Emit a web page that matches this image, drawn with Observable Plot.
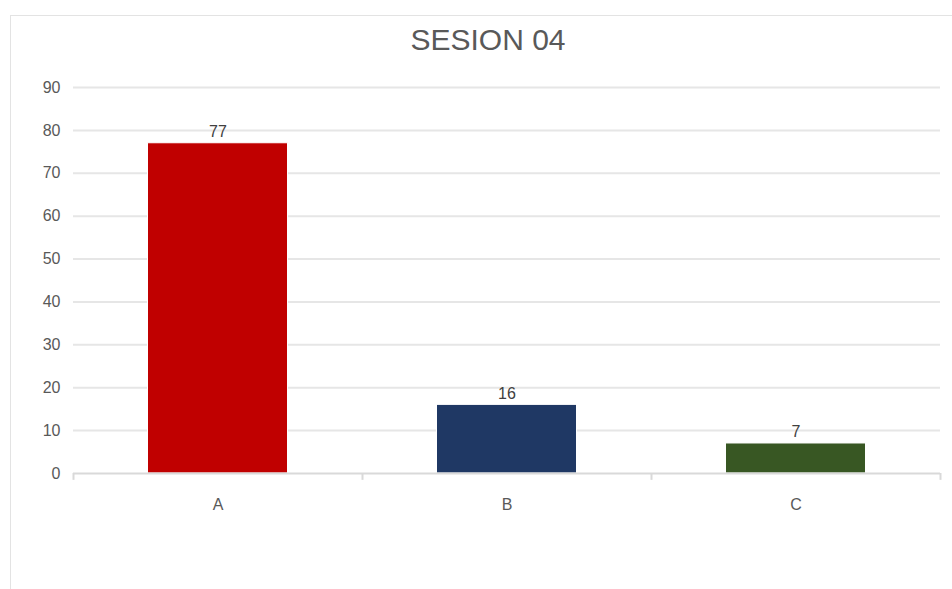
<!DOCTYPE html>
<html>
<head>
<meta charset="utf-8">
<script src="https://cdn.jsdelivr.net/npm/d3@7"></script>
<script src="https://cdn.jsdelivr.net/npm/@observablehq/plot@0.6"></script>
<style>
  html, body { margin: 0; padding: 0; background: #fff; }
  #wrap { position: relative; width: 952px; height: 589px; overflow: hidden; font-family: "Liberation Sans Narrow", "Liberation Sans", sans-serif; }
  #frame { position: absolute; left: 10px; top: 15px; width: 960px; height: 600px; border-top: 1.5px solid #e3e3e3; border-left: 1.5px solid #e3e3e3; box-sizing: border-box; }
  #title { position: absolute; left: 0; width: 976px; top: 23px; text-align: center; font-size: 30px; color: #595959; }
  #chart { position: absolute; left: 0; top: 0; }
</style>
</head>
<body>
<div id="wrap">
  <div id="frame"></div>
  <div id="chart"></div>
  <div id="title">SESION 04</div>
</div>
<script>
const categories = ["A", "B", "C"];
const values = [77, 16, 7];
const colors = ["#c00000", "#1f3864", "#385723"];
const yTicks = [0, 10, 20, 30, 40, 50, 60, 70, 80, 90];

const data = categories.map((c, i) => ({cat: c, value: values[i], color: colors[i]}));

const W = 952, H = 589;
const mL = 73, mR = 12, mT = 87, mB = 116;
const bw = (W - mL - mR) / categories.length;
const barW = 140;
const inset = (bw - barW) / 2;

const chart = Plot.plot({
  width: W,
  height: H,
  marginLeft: mL,
  marginRight: mR,
  marginTop: mT,
  marginBottom: mB,
  style: {fontFamily: '"Liberation Sans Narrow", "Liberation Sans", sans-serif', fontSize: "16px", color: "#595959", background: "transparent"},
  x: {domain: categories, padding: 0, label: null},
  y: {domain: [0, 90], label: null},
  marks: [
    Plot.ruleY(yTicks.filter(d => d > 0), {stroke: "#e6e6e6", strokeWidth: 2}),
    Plot.barY(data, {x: "cat", y: "value", fill: "color", insetLeft: inset, insetRight: inset, stroke: "#fff", strokeWidth: 1}),
    Plot.ruleY([0], {stroke: "#d9d9d9", strokeWidth: 2}),
    Plot.ruleX(categories, {x: d => d, dx: -bw / 2, y1: 0, y2: -1.6, stroke: "#d9d9d9", strokeWidth: 2}),
    Plot.ruleX(categories.slice(-1), {x: d => d, dx: bw / 2, y1: 0, y2: -1.6, stroke: "#d9d9d9", strokeWidth: 2}),
    Plot.text(data, {x: "cat", y: "value", text: d => String(d.value), lineAnchor: "bottom", dy: -6, fill: "#404040", fontSize: 16}),
    Plot.axisY({ticks: yTicks, tickSize: 0, tickPadding: 13, fill: "#595959", fontSize: 16}),
    Plot.axisX({tickSize: 0, tickPadding: 25, fill: "#595959", fontSize: 16})
  ]
});
document.getElementById("chart").appendChild(chart);
</script>
</body>
</html>
